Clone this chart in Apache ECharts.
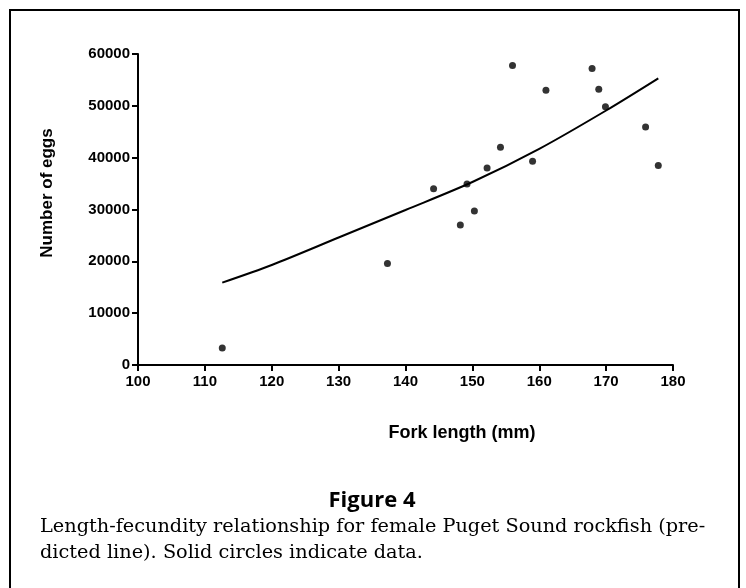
<!DOCTYPE html>
<html><head><meta charset="utf-8">
<script src="https://cdn.jsdelivr.net/npm/echarts@6/dist/echarts.min.js"></script>
<style>html,body{margin:0;padding:0;background:#fff}#c{width:746px;height:588px}</style>
</head><body><div id="c"></div>
<script>
// Observed data (fork length mm, number of eggs)
const forkLength = [112.6, 137.3, 144.2, 148.2, 149.2, 150.3, 152.2, 154.2, 156.0, 159.0, 161.0, 167.9, 168.9, 169.9, 175.9, 177.8];
const eggs       = [3300, 19600, 34000, 27000, 34900, 29700, 38000, 42000, 57800, 39300, 53000, 57200, 53200, 49800, 45900, 38500];
// Predicted line
const predLength = [112.6, 120, 130, 140, 150, 160, 170, 177.8];
const predEggs   = [15900, 19300, 24600, 29900, 35300, 41700, 49100, 55300];
// Axis ticks
const xTicks = [100, 110, 120, 130, 140, 150, 160, 170, 180];
const yTicks = [0, 10000, 20000, 30000, 40000, 50000, 60000];

const chart = echarts.init(document.getElementById('c'), null, {renderer: 'canvas'});
const tickFont = {color: '#000', fontFamily: 'Liberation Sans, Arial, sans-serif', fontSize: 15, fontWeight: 'bold'};
chart.setOption({
  animation: false,
  backgroundColor: '#fff',
  grid: {left: 138, right: 73, top: 54, bottom: 223, containLabel: false},
  xAxis: {
    type: 'value', min: xTicks[0], max: xTicks[xTicks.length - 1], interval: 10,
    axisLine: {lineStyle: {color: '#000', width: 2}},
    axisTick: {show: true, length: 6, lineStyle: {color: '#000', width: 2}},
    axisLabel: Object.assign({margin: 9, formatter: v => String(v)}, tickFont),
    splitLine: {show: false}
  },
  yAxis: {
    type: 'value', min: yTicks[0], max: yTicks[yTicks.length - 1], interval: 10000,
    axisLine: {show: true, lineStyle: {color: '#000', width: 2}},
    axisTick: {show: true, length: 6, lineStyle: {color: '#000', width: 2}},
    axisLabel: Object.assign({margin: 8, formatter: v => String(v)}, tickFont),
    splitLine: {show: false}
  },
  series: [
    {
      type: 'line', data: predLength.map((x, i) => [x, predEggs[i]]),
      smooth: 0.3, showSymbol: false, symbol: 'none',
      lineStyle: {color: '#000', width: 2}, z: 2
    },
    {
      type: 'scatter', data: forkLength.map((x, i) => [x, eggs[i]]),
      symbol: 'circle', symbolSize: 7, itemStyle: {color: '#000'}, z: 3
    }
  ],
  graphic: [
    {type: 'rect', shape: {x: 10, y: 10, width: 729, height: 620}, style: {fill: 'none', stroke: '#000', lineWidth: 2}, silent: true},
    {type: 'text', x: 47, y: 193, rotation: Math.PI / 2,
     style: {text: 'Number of eggs', fill: '#000', font: 'bold 17px "Liberation Sans", Arial, sans-serif', textAlign: 'center', textVerticalAlign: 'middle'}},
    {type: 'text', x: 462, y: 433,
     style: {text: 'Fork length (mm)', fill: '#000', font: 'bold 18px "Liberation Sans", Arial, sans-serif', textAlign: 'center', textVerticalAlign: 'middle'}},
    {type: 'text', x: 372, y: 501,
     style: {text: 'Figure 4', fill: '#000', font: 'bold 22px "Open Sans", "Noto Sans", sans-serif', textAlign: 'center', textVerticalAlign: 'middle'}},
    {type: 'text', x: 40, y: 527,
     style: {text: 'Length-fecundity relationship for female Puget Sound rockfish (pre-', fill: '#000', font: '19.3px "DejaVu Serif", serif', textAlign: 'left', textVerticalAlign: 'middle'}},
    {type: 'text', x: 40, y: 553,
     style: {text: 'dicted line). Solid circles indicate data.', fill: '#000', font: '19.3px "DejaVu Serif", serif', textAlign: 'left', textVerticalAlign: 'middle'}}
  ]
});
</script></body></html>
